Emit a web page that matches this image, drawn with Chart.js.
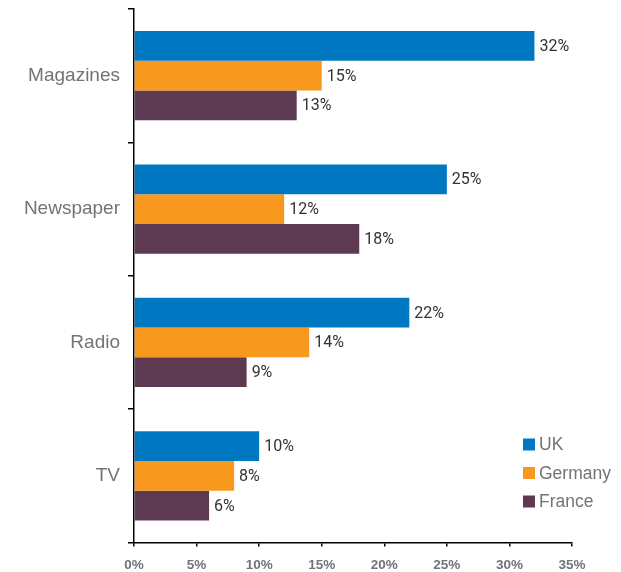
<!DOCTYPE html>
<html>
<head>
<meta charset="utf-8">
<title>Media by country</title>
<script src="https://cdn.jsdelivr.net/npm/chart.js@4.4.1/dist/chart.umd.min.js"></script>
<style>
  html, body { margin: 0; padding: 0; background: #fff; }
  #wrap { width: 621px; height: 572px; position: relative; }
</style>
</head>
<body>
<div id="wrap"><canvas id="myChart"></canvas></div>
<script>
'use strict';

var categories = ['Magazines', 'Newspaper', 'Radio', 'TV'];
var countries = ['UK', 'Germany', 'France'];
var ukValues = [32, 25, 22, 10];
var germanyValues = [15, 12, 14, 8];
var franceValues = [13, 18, 9, 6];
var tickValues = [0, 5, 10, 15, 20, 25, 30, 35];
var colors = ['#0078c1', '#f8981e', '#5d3a52'];

var greyText = '#6f7479';

// value labels at the end of each bar
var barLabels = {
  id: 'barLabels',
  afterDatasetsDraw: function(chart) {
    var ctx = chart.ctx;
    ctx.save();
    ctx.font = '16px Roboto, "Liberation Sans", sans-serif';
    ctx.fillStyle = '#333';
    ctx.textAlign = 'left';
    ctx.textBaseline = 'middle';
    chart.data.datasets.forEach(function(ds, i) {
      var meta = chart.getDatasetMeta(i);
      meta.data.forEach(function(bar, j) {
        ctx.fillText(ds.data[j] + '%', bar.x + 5, bar.y + 1);
      });
    });
    ctx.restore();
  }
};

// legend sits inside the plot, lower right
var cornerLegend = {
  id: 'cornerLegend',
  afterDraw: function(chart) {
    var ctx = chart.ctx;
    var area = chart.chartArea;
    var x = area.right - 49;
    var y = area.bottom - 98;
    ctx.save();
    ctx.font = '17.5px "Liberation Sans", Arial, sans-serif';
    ctx.textAlign = 'left';
    ctx.textBaseline = 'middle';
    chart.data.datasets.forEach(function(ds, i) {
      var cy = y + i * 28.5;
      ctx.fillStyle = ds.backgroundColor;
      ctx.fillRect(x, cy - 6, 12, 12);
      ctx.fillStyle = greyText;
      ctx.fillText(ds.label, x + 16, cy + 1);
    });
    ctx.restore();
  }
};

var datasets = [ukValues, germanyValues, franceValues].map(function(values, i) {
  return {
    label: countries[i],
    data: values,
    backgroundColor: colors[i],
    borderWidth: 0,
    categoryPercentage: 0.67,
    barPercentage: 1
  };
});

var ctx = document.getElementById('myChart').getContext('2d');
var chart = new Chart(ctx, {
  type: 'bar',
  data: {
    labels: categories,
    datasets: datasets
  },
  plugins: [barLabels, cornerLegend],
  options: {
    indexAxis: 'y',
    responsive: true,
    maintainAspectRatio: false,
    animation: false,
    layout: {
      padding: { top: 0, right: 49, bottom: 0, left: 0 }
    },
    plugins: {
      legend: { display: false },
      tooltip: { enabled: false }
    },
    scales: {
      x: {
        min: 0,
        max: 35,
        afterBuildTicks: function(scale) {
          scale.ticks = tickValues.map(function(v) { return { value: v }; });
        },
        afterFit: function(scale) {
          scale.height = 29.5;
        },
        border: { display: true, color: '#000', width: 1.5 },
        grid: {
          display: true,
          drawOnChartArea: false,
          drawTicks: true,
          tickLength: 4,
          color: '#000',
          lineWidth: 1.5
        },
        ticks: {
          padding: 11,
          maxRotation: 0,
          color: greyText,
          font: { family: '"Liberation Sans", Arial, sans-serif', size: 13.5, weight: 'bold' },
          callback: function(v) { return v + '%'; }
        }
      },
      y: {
        afterFit: function(scale) {
          scale.width = 134;
          scale.paddingTop = 9;
          scale.paddingBottom = 0;
        },
        border: { display: true, color: '#000', width: 1.5 },
        grid: {
          display: true,
          offset: true,
          drawOnChartArea: false,
          drawTicks: true,
          tickLength: 6,
          color: '#000',
          lineWidth: 1.5
        },
        ticks: {
          padding: 8,
          color: greyText,
          font: { family: '"Liberation Sans", Arial, sans-serif', size: 19 }
        }
      }
    }
  }
});
</script>
</body>
</html>
